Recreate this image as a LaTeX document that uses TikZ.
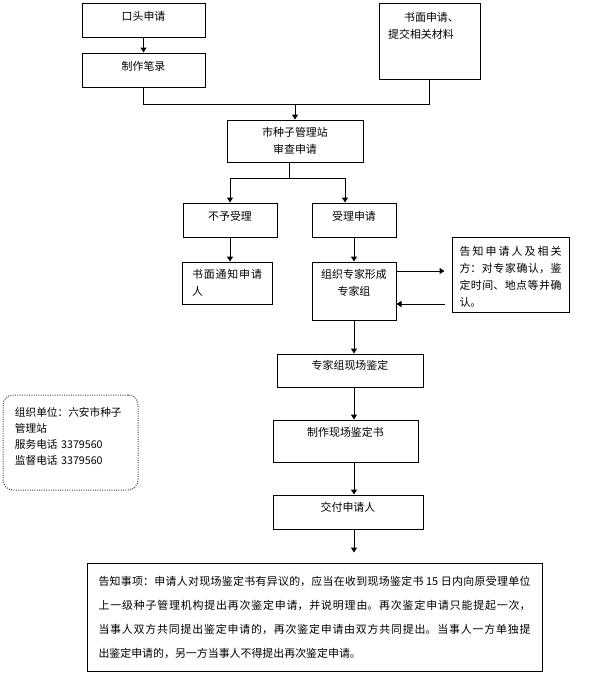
\documentclass[tikz,border=0pt]{standalone}
\usepackage{fontspec}
\setmainfont{Noto Sans CJK SC}
\XeTeXlinebreaklocale "zh"
\XeTeXlinebreakskip=0pt plus 2pt
\usetikzlibrary{arrows.meta,calc,positioning}
\newcommand{\boxfont}{\fontsize{8.2pt}{12.75pt}\selectfont}

\begin{document}
\begin{tikzpicture}[x=0.75pt, y=-0.75pt,
  box/.style={draw, line width=0.75pt, inner sep=0pt, font=\boxfont},
  infobox/.style={box, densely dotted, rounded corners=7.5pt, draw=black!75},
  arr/.style={-{Triangle[length=3.75pt,width=4.5pt]}, line width=0.75pt},
  link/.style={line width=0.75pt}
]
  \useasboundingbox (0,0) rectangle (592,676);

  % Applications
  \node[box, minimum width=92.25pt, minimum height=25.5pt, text depth=5.5pt] (kt) at (143.5,20) {口头申请\hspace{9.75pt}};
  \node[box, minimum width=92.25pt, minimum height=25.5pt, text depth=5.5pt] (bl) at (143.5,70) {制作笔录\hspace{9pt}};
  \node[box, minimum width=75.75pt, minimum height=57pt, text width=62pt, align=left, text depth=35.5pt] (sm) at (429.5,41)
    {\hspace*{12pt}书面申请、\\提交相关材料};

  % Review
  \node[box, minimum width=102pt, minimum height=31.5pt, align=center] (zz) at (295,141) {市种子管理站\\审查申请};
  \node[box, minimum width=70.5pt, minimum height=25.5pt, text depth=5.5pt] (by) at (230,220) {不予受理\hspace{6pt}};
  \node[box, minimum width=63pt, minimum height=25.5pt, text depth=5.5pt] (sl) at (354,220) {受理申请\hspace{15pt}};
  \node[box, minimum width=67.5pt, minimum height=31.5pt, text width=52.5pt, align=justify] (tz) at (227,283)
    {书面通知申请\linebreak 人};
  \node[box, minimum width=63pt, minimum height=43.5pt, align=center, text depth=12.25pt] (zj) at (354,291) {组织专家形成\\专家组};
  \node[box, minimum width=87.75pt, minimum height=56.25pt, text width=76.5pt, align=justify, text depth=35pt] (gz) at (510.5,274.5)
    {告知申请人及相关\linebreak 方：对专家确认，鉴\linebreak 定时间、地点等并确\linebreak 认。};

  % Appraisal
  \node[box, minimum width=109.5pt, minimum height=24.75pt, text depth=7.75pt] (xc) at (350,370.5) {专家组现场鉴定\hspace{9pt}};
  \node[box, minimum width=108.75pt, minimum height=31.5pt, text depth=13pt] (js) at (345.5,441) {制作现场鉴定书};
  \node[box, minimum width=112.5pt, minimum height=25.5pt, text depth=7pt] (jf) at (348,512) {交付申请人\hspace{4.5pt}};

  % Contact
  \node[infobox, minimum width=101.25pt, minimum height=71.25pt, text width=83.25pt, align=left, text depth=45.25pt,
    font=\fontsize{8pt}{12pt}\selectfont] (zd) at (70.5,442.5)
    {组织单位：六安市种子\\管理站\\服务电话 3379560\\监督电话 3379560};

  % Notice
  \node[box, minimum width=341.25pt, minimum height=81pt, text width=324pt, align=justify,
    font=\fontsize{8.2pt}{18pt}\selectfont] (gs) at (314.5,617)
    {\hangindent=16.5pt\hangafter=1 告知事项：申请人对现场鉴定书有异议的，应当在收到现场鉴定书 15 日内向原受理单位\linebreak
     上一级种子管理机构提出再次鉴定申请，并说明理由。再次鉴定申请只能提起一次，\linebreak
     当事人双方共同提出鉴定申请的，再次鉴定申请由双方共同提出。当事人一方单独提\linebreak
     出鉴定申请的，另一方当事人不得提出再次鉴定申请。};

  % Connectors
  \coordinate (hb) at ($(sm.south)+(0,25)$);
  \coordinate (fk) at ($(zz.south)+(-6,16)$);
  \coordinate (o1) at ($(zj.east)+(0,-20)$);
  \coordinate (o2) at ($(zj.east)+(0,13)$);
  \draw[arr] (kt.south) -- (bl.north);
  \draw[link] (bl.south) |- (hb) -- (sm.south);
  \draw[arr] (hb -| zz.north) -- (zz.north);
  \draw[link] (zz.south -| fk) -- (fk);
  \draw[arr] (fk) -| (by.north);
  \draw[arr] (fk) -| ($(sl.north)+(-9,0)$);
  \draw[arr] (by.south) -- (by.south |- tz.north);
  \draw[arr] (sl.south) -- (zj.north);
  \draw[arr, shorten >=5.25pt] (o1) -- (o1 -| gz.west);
  \draw[arr, shorten <=5.25pt] (o2 -| gz.west) -- (o2);
  \draw[arr] (zj.south) -- (zj.south |- xc.north);
  \draw[arr] (xc.south -| zj.south) -- (js.north -| zj.south);
  \draw[arr] (js.south -| zj.south) -- (jf.north -| zj.south);
  \draw[arr, shorten >=7.5pt] (jf.south -| zj.south) -- (gs.north -| zj.south);
\end{tikzpicture}
\end{document}
